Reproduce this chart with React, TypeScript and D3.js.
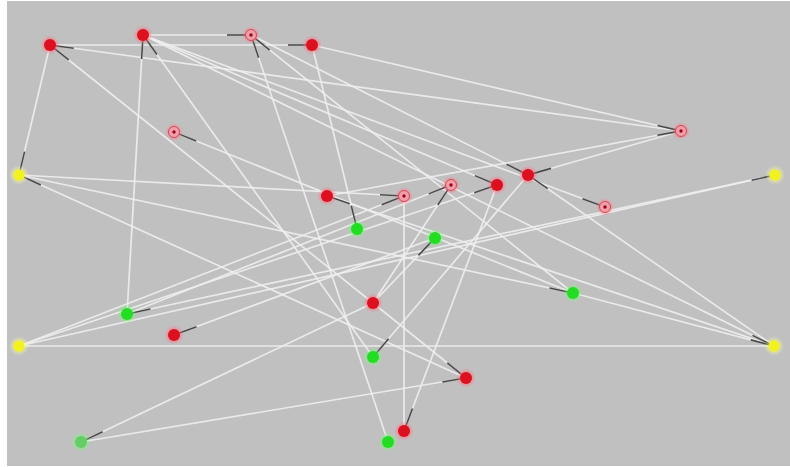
import React from "react";
import * as d3 from "d3";

// Network nodes (layout coordinates in data units)
const nodeIds = ["A","B","C","D","E","F","G","H","I","J","K","L","M","N","O","P","Q","R","S","T","U","V","W","X","Y","Z","AA"];
const nodeX = [50,143,251,312,174,681,19,327,404,451,497,528,605,775,357,435,127,573,373,174,19,774,373,466,404,388,81];
const nodeY = [45,35,35,45,132,131,175,196,196,185,185,175,207,175,229,238,314,293,303,335,346,346,357,378,431,442,442];
const nodeKind = ["red","red","ring","red","ring","ring","yellow","red","ring","ring","red","red","ring","yellow","green","green","green","green","red","red","yellow","yellow","green","red","red","green","pale"];

// Directed links: source -> target (arrow drawn at target)
const linkSource = ["A","A","F","S","Q","W","B","B","B","B","Z","R","C","D","D","H","F","G","G","X","U","S","Q","U","V","U","N","R","V","S","P","L","S","AA","S","K","R"];
const linkTarget = ["G","D","A","A","B","B","C","K","M","V","C","C","L","F","O","F","L","I","R","G","I","J","J","K","L","N","Q","V","H","P","T","W","X","X","AA","Y","E"];
// Undirected links (no arrow)
const plainSource = ["I","U"];
const plainTarget = ["Y","V"];

const W = 790, H = 467;

export default function App() {
  const x = d3.scaleLinear().domain([0, 790]).range([0, W]);
  const y = d3.scaleLinear().domain([0, 467]).range([0, H]);
  const idx = new Map(nodeIds.map((id, i) => [id, i]));
  const px = (id: string) => x(nodeX[idx.get(id)!]);
  const py = (id: string) => y(nodeY[idx.get(id)!]);

  const links = linkSource.map((s, i) => ({ s, t: linkTarget[i], arrow: true }))
    .concat(plainSource.map((s, i) => ({ s, t: plainTarget[i], arrow: false })));

  const line = d3.line<[number, number]>();

  return (
    <svg width={W} height={H} style={{ position: "absolute", left: 0, top: 0, background: "#fff" }}>
      <defs>
        <radialGradient id="haloRed">
          <stop offset="0.45" stopColor="#ff6070" stopOpacity="0.7" />
          <stop offset="1" stopColor="#ff8090" stopOpacity="0" />
        </radialGradient>
        <radialGradient id="haloGreen">
          <stop offset="0.45" stopColor="#60ff60" stopOpacity="0.6" />
          <stop offset="1" stopColor="#80ff80" stopOpacity="0" />
        </radialGradient>
        <radialGradient id="haloYellow">
          <stop offset="0.45" stopColor="#ffff80" stopOpacity="0.6" />
          <stop offset="1" stopColor="#ffffa0" stopOpacity="0" />
        </radialGradient>
      </defs>
      <rect x={7} y={1} width={W - 7} height={H - 2} fill="#c0c0c0" />
      <g>
        {links.map((l, i) => (
          <path key={"l" + i} d={line([[px(l.s), py(l.s)], [px(l.t), py(l.t)]])!}
            stroke="#eeeeee" strokeWidth={1.7} strokeOpacity={0.9} fill="none" />
        ))}
      </g>
      <g>
        {links.filter(l => l.arrow).map((l, i) => {
          const x0 = px(l.s), y0 = py(l.s), x1 = px(l.t), y1 = py(l.t);
          const len = Math.hypot(x1 - x0, y1 - y0);
          const ux = (x0 - x1) / len, uy = (y0 - y1) / len;
          const a = 5, b = 24;
          return (
            <path key={"a" + i} d={line([[x1 + ux * a, y1 + uy * a], [x1 + ux * b, y1 + uy * b]])!}
              stroke="#4a4a4a" strokeWidth={1.6} fill="none" />
          );
        })}
      </g>
      <g>
        {nodeIds.map((id, i) => {
          const cx = x(nodeX[i]), cy = y(nodeY[i]);
          const k = nodeKind[i];
          if (k === "ring") {
            return (
              <g key={id}>
                <circle cx={cx} cy={cy} r={9} fill="url(#haloRed)" />
                <circle cx={cx} cy={cy} r={5.5} fill="#eea0a8" stroke="#d84858" strokeWidth={1} />
                <circle cx={cx} cy={cy} r={1.7} fill="#a00018" />
              </g>
            );
          }
          const fill = k === "red" ? "#dd1020" : k === "green" ? "#22dd22" : k === "pale" ? "#66cc66" : "#f2f21e";
          const halo = k === "red" ? "url(#haloRed)" : k === "yellow" ? "url(#haloYellow)" : "url(#haloGreen)";
          return (
            <g key={id}>
              <circle cx={cx} cy={cy} r={10} fill={halo} />
              <circle cx={cx} cy={cy} r={k === "yellow" ? 5.5 : 6} fill={fill} />
            </g>
          );
        })}
      </g>
    </svg>
  );
}
